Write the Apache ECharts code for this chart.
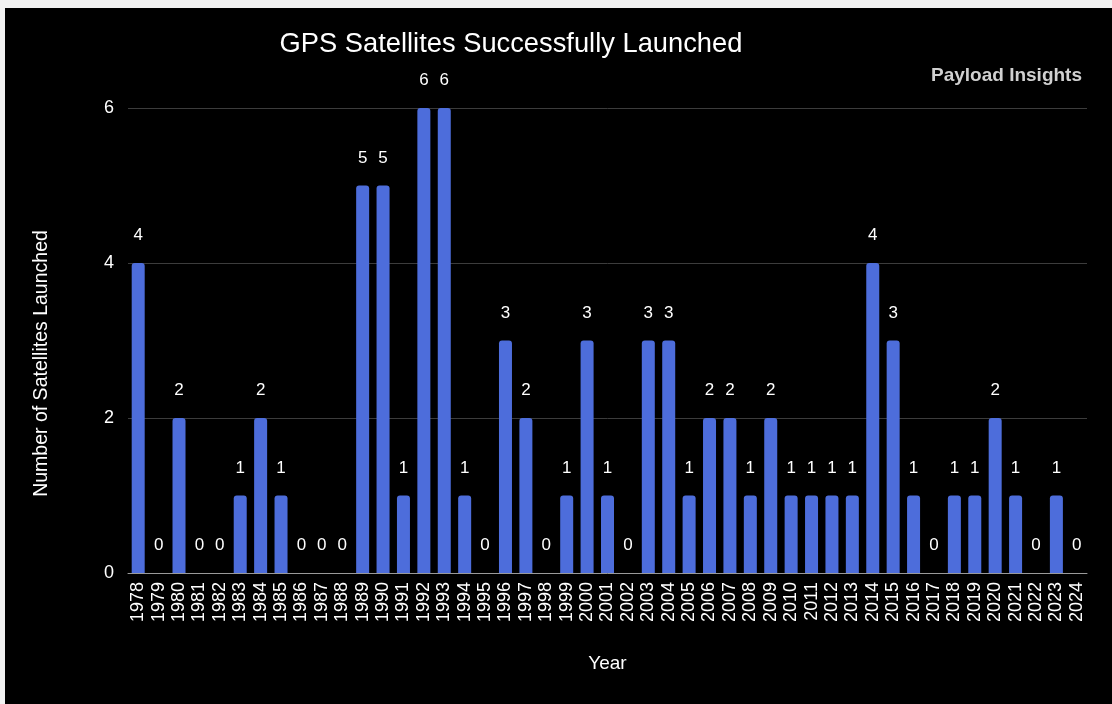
<!DOCTYPE html>
<html>
<head>
<meta charset="utf-8">
<script src="https://cdn.jsdelivr.net/npm/echarts@6/dist/echarts.min.js"></script>
<style>
  html, body { margin: 0; padding: 0; background: #f2f2f2; }
  #chart { position: absolute; left: 5px; top: 8px; width: 1107px; height: 696px; background: #000; }
</style>
</head>
<body>
<div id="chart"></div>
<script>
// GPS satellites launched per year
const years = [
  '1978','1979','1980','1981','1982','1983','1984','1985','1986','1987','1988',
  '1989','1990','1991','1992','1993','1994','1995','1996','1997','1998','1999',
  '2000','2001','2002','2003','2004','2005','2006','2007','2008','2009','2010',
  '2011','2012','2013','2014','2015','2016','2017','2018','2019','2020','2021',
  '2022','2023','2024'
];
const launched = [
  4, 0, 2, 0, 0, 1, 2, 1, 0, 0, 0,
  5, 5, 1, 6, 6, 1, 0, 3, 2, 0, 1,
  3, 1, 0, 3, 3, 1, 2, 2, 1, 2, 1,
  1, 1, 1, 4, 3, 1, 0, 1, 1, 2, 1,
  0, 1, 0
];
const yTicks = [0, 2, 4, 6];

const FONT = '"Liberation Sans", Arial, Helvetica, sans-serif';
const chart = echarts.init(document.getElementById('chart'), null, { renderer: 'canvas' });

chart.setOption({
  backgroundColor: '#000',
  animation: false,
  title: [
    {
      text: 'GPS Satellites Successfully Launched',
      left: 501, top: 18, textAlign: 'center',
      textStyle: { color: '#fff', fontFamily: FONT, fontSize: 27.3, fontWeight: 'normal' }
    },
    {
      text: 'Payload Insights',
      right: 25, top: 53,
      textStyle: { color: '#d0d0d0', fontFamily: FONT, fontSize: 19, fontWeight: 'bold' }
    }
  ],
  grid: { left: 123, right: 25, top: 100, bottom: 131, containLabel: false },
  xAxis: {
    type: 'category',
    data: years,
    name: 'Year',
    nameLocation: 'middle',
    nameGap: 81,
    nameTextStyle: { color: '#fff', fontFamily: FONT, fontSize: 19 },
    axisLine: { show: true, lineStyle: { color: '#9a9a9a', width: 1 } },
    axisTick: { show: false },
    axisLabel: {
      color: '#fff', fontFamily: FONT, fontSize: 18,
      rotate: 90, interval: 0, margin: 9
    }
  },
  yAxis: {
    type: 'value',
    min: yTicks[0],
    max: yTicks[yTicks.length - 1],
    interval: yTicks[1] - yTicks[0],
    name: 'Number of Satellites Launched',
    nameLocation: 'middle',
    nameGap: 76,
    nameRotate: 90,
    nameTextStyle: { color: '#fff', fontFamily: FONT, fontSize: 19.5, padding: [0, 46, 0, 0] },
    axisLine: { show: false },
    axisTick: { show: false },
    axisLabel: { color: '#fff', fontFamily: FONT, fontSize: 18, margin: 14 },
    splitLine: { lineStyle: { color: '#3c3c3c', width: 1 } }
  },
  series: [{
    type: 'bar',
    data: launched,
    barWidth: 13,
    itemStyle: { color: '#4d6ddb', borderRadius: [3, 3, 0, 0] },
    label: {
      show: true,
      position: 'top',
      distance: 19,
      color: '#fff',
      fontFamily: FONT,
      fontSize: 17
    }
  }]
});
</script>
</body>
</html>
